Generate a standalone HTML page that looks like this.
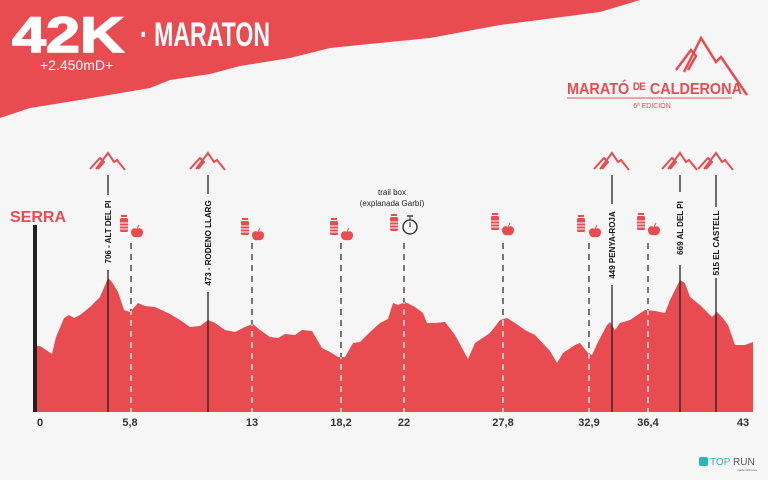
<!DOCTYPE html>
<html><head><meta charset="utf-8"><style>
html,body{margin:0;padding:0;background:#f6f6f6;}
svg{display:block;font-family:"Liberation Sans",sans-serif;}
</style></head><body>
<svg width="768" height="480" viewBox="0 0 768 480" xmlns="http://www.w3.org/2000/svg">
<defs>
<clipPath id="prof"><path d="M35,412 L35,346 L40,346 L52,354 L56,337 L64,318 L69,315 L74,318 L80,315 L90,307 L100,297 L108,278 L112,282 L118,292 L124,310 L130,312 L138,303 L145,306 L155,307 L170,314 L180,320 L190,327 L200,326 L208,320 L215,323 L225,330 L235,332 L245,327 L253,324 L260,330 L270,337 L278,338 L285,334 L295,335 L302,330 L312,331 L322,348 L330,352 L338,357 L345,357 L353,343 L360,342 L370,332 L380,323 L388,319 L393,303 L398,305 L405,302 L415,307 L423,313 L427,323 L435,323 L445,322 L455,335 L468,359 L475,343 L490,333 L500,320 L507,318 L515,323 L525,330 L535,335 L550,351 L557,363 L563,353 L575,345 L580,343 L588,353 L592,355 L598,342 L607,325 L610,322 L615,330 L620,323 L630,320 L645,310 L655,311 L665,313 L670,300 L680,280 L685,283 L690,297 L700,305 L705,310 L712,317 L717,312 L722,317 L728,325 L735,345 L745,345 L753,342 L753,412 Z"/></clipPath>
<g id="mt"><polyline points="-14,12 -4,1 0,5 -6,12" fill="none" stroke="#e84c50" stroke-width="2"/><polyline points="-8,12 4,-4 10,5 13,3 21,13" fill="none" stroke="#e84c50" stroke-width="2"/></g>
<g id="bt"><rect x="-3" y="0" width="6" height="2" fill="#e84c50"/><rect x="-4" y="3" width="8" height="14" rx="1.5" fill="#e84c50"/><line x1="-4" y1="8" x2="4" y2="8" stroke="#f6f6f6" stroke-width="1"/><line x1="-4" y1="11" x2="4" y2="11" stroke="#f6f6f6" stroke-width="1"/><line x1="-4" y1="14" x2="4" y2="14" stroke="#f6f6f6" stroke-width="1"/></g>
<g id="ap"><path d="M0,3 C-3,1 -6,3 -6,6 C-6,10 -3,12 0,11 C3,12 6,10 6,6 C6,3 3,1 0,3Z" fill="#e84c50"/><line x1="0" y1="3" x2="2" y2="-1" stroke="#e84c50" stroke-width="1"/></g>
</defs>
<polygon points="0,0 640,0 600,12 500,25 430,38 330,48 290,58 240,66 210,74 170,80 150,88 80,100 30,108 0,118" fill="#e84c50"/>
<text x="12" y="52" font-size="50" font-weight="bold" fill="#fff" stroke="#fff" stroke-width="1.5" textLength="112" lengthAdjust="spacingAndGlyphs">42K</text>
<text x="140" y="46" font-size="34" font-weight="bold" fill="#fff" textLength="130" lengthAdjust="spacingAndGlyphs">· MARATON</text>
<text x="40" y="70" font-size="14" fill="#fff">+2.450mD+</text>
<polyline points="676,70 691,50 696,56 688,70" fill="none" stroke="#e84c50" stroke-width="2.5"/>
<polyline points="684,72 701,38 716,62 721,57 747,95" fill="none" stroke="#e84c50" stroke-width="2.5"/>
<text x="567" y="94" font-size="16" font-weight="bold" fill="#e84c50" textLength="175" lengthAdjust="spacingAndGlyphs">MARATÓ ᴰᴱ CALDERONA</text>
<line x1="567" y1="98" x2="732" y2="98" stroke="#e84c50" stroke-width="1"/>
<text x="652" y="108" font-size="7" fill="#e84c50" text-anchor="middle">6ª EDICIÓN</text>
<path d="M35,412 L35,346 L40,346 L52,354 L56,337 L64,318 L69,315 L74,318 L80,315 L90,307 L100,297 L108,278 L112,282 L118,292 L124,310 L130,312 L138,303 L145,306 L155,307 L170,314 L180,320 L190,327 L200,326 L208,320 L215,323 L225,330 L235,332 L245,327 L253,324 L260,330 L270,337 L278,338 L285,334 L295,335 L302,330 L312,331 L322,348 L330,352 L338,357 L345,357 L353,343 L360,342 L370,332 L380,323 L388,319 L393,303 L398,305 L405,302 L415,307 L423,313 L427,323 L435,323 L445,322 L455,335 L468,359 L475,343 L490,333 L500,320 L507,318 L515,323 L525,330 L535,335 L550,351 L557,363 L563,353 L575,345 L580,343 L588,353 L592,355 L598,342 L607,325 L610,322 L615,330 L620,323 L630,320 L645,310 L655,311 L665,313 L670,300 L680,280 L685,283 L690,297 L700,305 L705,310 L712,317 L717,312 L722,317 L728,325 L735,345 L745,345 L753,342 L753,412 Z" fill="#e84c50"/>
<g stroke="#333" stroke-width="1.3" stroke-dasharray="6,5">
<line x1="131" y1="243" x2="131" y2="412"/><line x1="252" y1="243" x2="252" y2="412"/><line x1="341" y1="243" x2="341" y2="412"/><line x1="404" y1="243" x2="404" y2="412"/><line x1="503" y1="243" x2="503" y2="412"/><line x1="589" y1="243" x2="589" y2="412"/><line x1="648" y1="243" x2="648" y2="412"/>
</g>
<g stroke="#fff" stroke-width="1.3" stroke-dasharray="6,5" clip-path="url(#prof)">
<line x1="131" y1="243" x2="131" y2="412"/><line x1="252" y1="243" x2="252" y2="412"/><line x1="341" y1="243" x2="341" y2="412"/><line x1="404" y1="243" x2="404" y2="412"/><line x1="503" y1="243" x2="503" y2="412"/><line x1="589" y1="243" x2="589" y2="412"/><line x1="648" y1="243" x2="648" y2="412"/>
</g>
<rect x="33" y="225" width="4" height="187" fill="#222"/>
<text x="10" y="222" font-size="16" font-weight="bold" fill="#e84c50">SERRA</text>
<g stroke="#222" stroke-width="1.3">
<line x1="108" y1="175" x2="108" y2="195"/><line x1="108" y1="270" x2="108" y2="412"/>
<line x1="208" y1="175" x2="208" y2="194"/><line x1="208" y1="292" x2="208" y2="412"/>
<line x1="612" y1="175" x2="612" y2="204"/><line x1="612" y1="285" x2="612" y2="412"/>
<line x1="680" y1="175" x2="680" y2="192"/><line x1="680" y1="265" x2="680" y2="412"/>
<line x1="716" y1="175" x2="716" y2="207"/><line x1="716" y1="278" x2="716" y2="412"/>
</g>
<g font-size="8" font-weight="bold" fill="#111" text-anchor="middle">
<text transform="translate(111,232) rotate(-90)">706 - ALT DEL PI</text>
<text transform="translate(211,243) rotate(-90)">473 - RODENO LLARG</text>
<text transform="translate(615,245) rotate(-90)">449 PENYA-ROJA</text>
<text transform="translate(683,228) rotate(-90)">669 AL DEL PI</text>
<text transform="translate(719,243) rotate(-90)">515 EL CASTELL</text>
</g>
<use href="#mt" x="104" y="157"/><use href="#mt" x="204" y="157"/><use href="#mt" x="608" y="157"/><use href="#mt" x="676" y="157"/><use href="#mt" x="712" y="157"/>
<use href="#bt" x="124" y="215"/><use href="#ap" x="137" y="226"/>
<use href="#bt" x="245" y="218"/><use href="#ap" x="258" y="229"/>
<use href="#bt" x="334" y="218"/><use href="#ap" x="347" y="229"/>
<use href="#bt" x="394" y="214"/>
<circle cx="410" cy="227" r="7" fill="none" stroke="#222" stroke-width="1.3"/><line x1="410" y1="220" x2="410" y2="217" stroke="#222"/><line x1="407" y1="216" x2="413" y2="216" stroke="#222" stroke-width="1.3"/><line x1="410" y1="227" x2="410" y2="222" stroke="#222"/>
<text x="392" y="195" font-size="8" fill="#222" text-anchor="middle">trail box</text>
<text x="392" y="206" font-size="8" fill="#222" text-anchor="middle">(explanada Garbí)</text>
<use href="#bt" x="495" y="213"/><use href="#ap" x="508" y="224"/>
<use href="#bt" x="581" y="215"/><use href="#ap" x="595" y="226"/>
<use href="#bt" x="641" y="213"/><use href="#ap" x="654" y="224"/>
<g font-size="11" font-weight="bold" fill="#333" text-anchor="middle">
<text x="40" y="426">0</text><text x="130" y="426">5,8</text><text x="252" y="426">13</text><text x="341" y="426">18,2</text><text x="404" y="426">22</text><text x="503" y="426">27,8</text><text x="589" y="426">32,9</text><text x="648" y="426">36,4</text><text x="743" y="426">43</text>
</g>
<rect x="699" y="457" width="9" height="9" rx="2" fill="#2bb3b8"/>
<text x="710" y="465" font-size="10" fill="#2bb3b8">TOP</text><text x="733" y="465" font-size="10" fill="#555">RUN</text>
<text x="737" y="471" font-size="3" fill="#555">made with love</text>
</svg>
</body></html>
